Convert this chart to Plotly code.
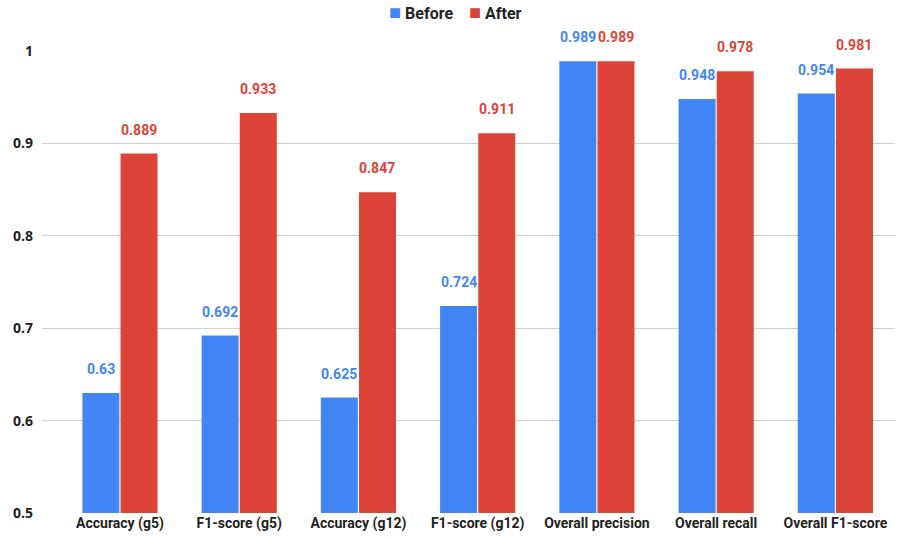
import plotly.graph_objects as go

categories = ["Accuracy (g5)", "F1-score (g5)", "Accuracy (g12)", "F1-score (g12)",
              "Overall precision", "Overall recall", "Overall F1-score"]
before = [0.63, 0.692, 0.625, 0.724, 0.989, 0.948, 0.954]
after = [0.889, 0.933, 0.847, 0.911, 0.989, 0.978, 0.981]
y_ticks = [0.5, 0.6, 0.7, 0.8, 0.9, 1.0]
y_tick_labels = ["0.5", "0.6", "0.7", "0.8", "0.9", "1"]

BLUE = "#4285F4"
RED = "#DB4437"
FONT = "Roboto"

fig = go.Figure()
fig.add_trace(go.Bar(name="Before", x=categories, y=before, marker_color=BLUE,
                     marker_line_width=0))
fig.add_trace(go.Bar(name="After", x=categories, y=after, marker_color=RED,
                     marker_line_width=0))

annotations = []
for i, c in enumerate(categories):
    for vals, col, sh in ((before, BLUE, -19), (after, RED, 19)):
        v = vals[i]
        annotations.append(dict(
            x=c, y=v, xref="x", yref="y", text=f"{v:g}", showarrow=False,
            xshift=sh, yshift=14, yanchor="bottom",
            font=dict(family=FONT, size=14, color=col, weight="bold")))

# legend drawn as text with coloured squares
plot_l, plot_r, plot_t, plot_b = 42, 895, 51, 513
legend_text = (f'<span style="color:{BLUE};font-size:20px">■</span>&nbsp;Before'
               f'&nbsp;&nbsp;&nbsp;&nbsp;<span style="color:{RED};font-size:20px">■</span>&nbsp;After')
annotations.append(dict(
    x=(455 - plot_l) / (plot_r - plot_l), y=(plot_b - 12) / (plot_b - plot_t),
    xref="paper", yref="paper", text=legend_text, showarrow=False,
    xanchor="center", yanchor="middle",
    font=dict(family=FONT, size=16, color="#222222", weight="bold")))

fig.update_layout(
    width=899, height=540,
    margin=dict(l=42, r=4, t=51, b=27),
    paper_bgcolor="white", plot_bgcolor="white",
    barmode="group", bargap=0.36, bargroupgap=0.03,
    font=dict(family=FONT, size=14, color="#222222"),
    showlegend=False,
    xaxis=dict(range=[-0.654, 6.5], showgrid=False, showline=False, ticks="",
               tickfont=dict(family=FONT, size=14, color="#222222", weight="bold")),
    yaxis=dict(range=[0.5, 1.0], tickvals=y_ticks, ticktext=y_tick_labels,
               showgrid=True, gridcolor="#d0d0d0", gridwidth=1, zeroline=False,
               showline=False, ticks="", ticklabelstandoff=8,
               tickfont=dict(family="Open Sans", size=14, color="#222222", weight="bold")),
    annotations=annotations,
)
fig.write_html("out.html")
